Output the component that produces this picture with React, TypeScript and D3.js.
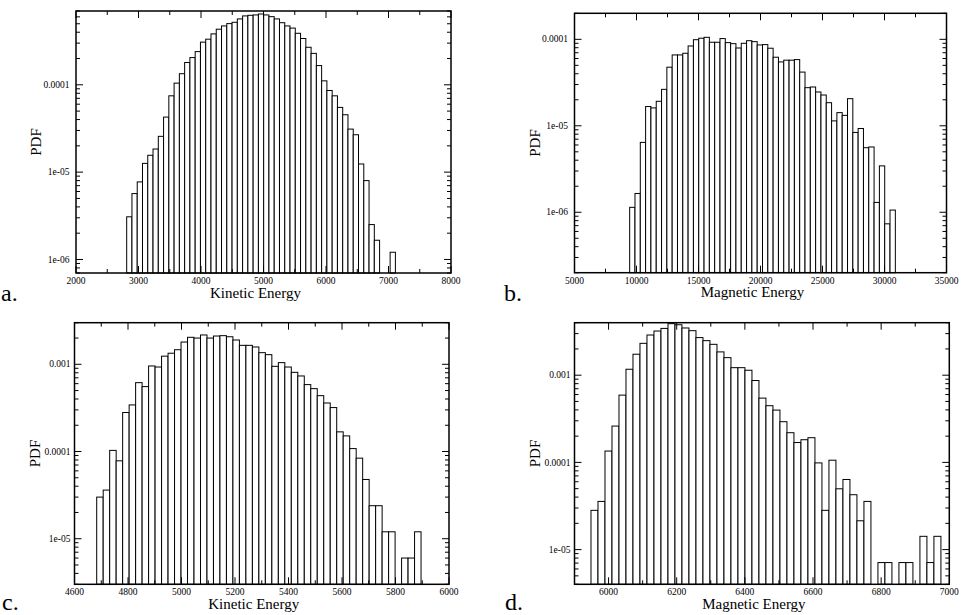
import React from 'react';
import * as d3 from 'd3';

// ---------- DATA ----------
// Panel a: Kinetic Energy PDF
const kineticA_binStart = 2811;
const kineticA_binWidth = 84.3;
const kineticA_pdf = [
  3.08e-6, 5.68e-6, 7.73e-6, 1.26e-5, 1.56e-5, 1.84e-5, 2.57e-5, 4.27e-5, 7.48e-5, 1.045e-4,
  1.34e-4, 1.8e-4, 2.05e-4, 2.4e-4, 3.08e-4, 3.33e-4, 3.83e-4, 4.33e-4, 4.72e-4, 5.02e-4,
  5.2e-4, 5.68e-4, 6.15e-4, 6.25e-4, 6.31e-4, 6.47e-4, 6.31e-4, 6.03e-4, 5.68e-4, 5.14e-4,
  4.72e-4, 4.46e-4, 3.89e-4, 3.39e-4, 2.69e-4, 2.29e-4, 1.66e-4, 1.11e-4, 8.61e-5, 7.48e-5,
  5.51e-5, 4.54e-5, 3.11e-5, 2.68e-5, 1.24e-5, 8.0e-6, 2.51e-6, 1.66e-6, 0, 0, 1.21e-6,
];
const kineticA_xTicks = [2000, 3000, 4000, 5000, 6000, 7000, 8000];
const kineticA_yTicks = [1e-6, 1e-5, 1e-4];
const kineticA_yLabels = ['1e-06', '1e-05', '0.0001'];

// Panel b: Magnetic Energy PDF
const magneticB_binStart = 9449;
const magneticB_binWidth = 428.5;
const magneticB_pdf = [
  1.14e-6, 1.65e-6, 6.43e-6, 1.67e-5, 1.61e-5, 1.92e-5, 2.64e-5, 4.76e-5, 6.6e-5, 6.6e-5,
  6.9e-5, 8.38e-5, 9.9e-5, 1.03e-4, 1.055e-4, 9.25e-5, 9.25e-5, 1.02e-4, 9.16e-5, 8.91e-5,
  7.94e-5, 9.0e-5, 9.64e-5, 9.4e-5, 8.61e-5, 8.69e-5, 7.89e-5, 6.21e-5, 5.48e-5, 5.74e-5,
  5.74e-5, 5.83e-5, 4.18e-5, 2.76e-5, 2.81e-5, 2.46e-5, 2.27e-5, 1.85e-5, 1.14e-5, 1.42e-5,
  1.32e-5, 2.06e-5, 8.38e-6, 9.31e-6, 5.58e-6, 5.69e-6, 1.3e-6, 3.44e-6, 7.35e-7, 1.06e-6,
];
const magneticB_xTicks = [5000, 10000, 15000, 20000, 25000, 30000, 35000];
const magneticB_yTicks = [1e-6, 1e-5, 1e-4];
const magneticB_yLabels = ['1e-06', '1e-05', '0.0001'];

// Panel c: Kinetic Energy PDF
const kineticC_binStart = 4683;
const kineticC_binWidth = 24.25;
const kineticC_pdf = [
  3.0e-5, 3.61e-5, 1.03e-4, 7.82e-5, 2.8e-4, 3.42e-4, 6.16e-4, 5.55e-4, 9.57e-4, 9.31e-4,
  1.24e-3, 1.34e-3, 1.47e-3, 1.8e-3, 2.04e-3, 2.0e-3, 2.17e-3, 2.0e-3, 2.11e-3, 2.13e-3,
  2.07e-3, 1.9e-3, 1.65e-3, 1.65e-3, 1.58e-3, 1.36e-3, 1.29e-3, 9.48e-4, 1.045e-3, 9.31e-4,
  8.09e-4, 7.35e-4, 5.85e-4, 5.26e-4, 4.37e-4, 3.6e-4, 3.19e-4, 1.68e-4, 1.51e-4, 1.08e-4,
  8.39e-5, 4.78e-5, 2.39e-5, 2.39e-5, 1.2e-5, 1.2e-5, 0, 6.0e-6, 6.0e-6, 1.2e-5,
];
const kineticC_xTicks = [4600, 4800, 5000, 5200, 5400, 5600, 5800, 6000];
const kineticC_yTicks = [1e-5, 1e-4, 1e-3];
const kineticC_yLabels = ['1e-05', '0.0001', '0.001'];

// Panel d: Magnetic Energy PDF
const magneticD_binStart = 5948.4;
const magneticD_binWidth = 20.54;
const magneticD_pdf = [
  2.82e-5, 3.57e-5, 1.35e-4, 2.61e-4, 5.91e-4, 1.17e-3, 1.74e-3, 2.32e-3, 2.89e-3, 3.21e-3,
  3.44e-3, 3.9e-3, 3.79e-3, 3.48e-3, 3.24e-3, 2.7e-3, 2.49e-3, 2.26e-3, 1.85e-3, 1.59e-3,
  1.22e-3, 1.22e-3, 1.14e-3, 8.69e-4, 5.46e-4, 4.47e-4, 3.98e-4, 2.93e-4, 2.19e-4, 1.69e-4,
  1.82e-4, 1.92e-4, 9.87e-5, 2.82e-5, 1.06e-4, 4.98e-5, 6.37e-5, 4.26e-5, 2.14e-5, 3.57e-5,
  0, 7.1e-6, 7.1e-6, 0, 7.1e-6, 7.1e-6, 0, 1.42e-5, 7.1e-6, 1.42e-5,
];
const magneticD_xTicks = [6000, 6200, 6400, 6600, 6800, 7000];
const magneticD_yTicks = [1e-5, 1e-4, 1e-3];
const magneticD_yLabels = ['1e-05', '0.0001', '0.001'];

// ---------- LAYOUT ----------
const FONT = '"Liberation Serif", "Times New Roman", Times, serif';

type Spec = {
  letter: string;
  xLabel: string;
  values: number[];
  binStart: number;
  binWidth: number;
  xDomain: [number, number];
  xMinorStep: number;
  xTicks: number[];
  yDomain: [number, number];
  yTicks: number[];
  yLabels: string[];
  left: number;
  right: number;
  top: number;
  bottom: number;
  yLabelGap: number;
  letterX: number;
  letterY: number;
};

const panels: Spec[] = [
  {
    letter: 'a.', xLabel: 'Kinetic Energy', values: kineticA_pdf,
    binStart: kineticA_binStart, binWidth: kineticA_binWidth,
    xDomain: [2000, 8000], xMinorStep: 500, xTicks: kineticA_xTicks,
    yDomain: [7e-7, 7e-4], yTicks: kineticA_yTicks, yLabels: kineticA_yLabels,
    left: 76, right: 451, top: 11, bottom: 273, yLabelGap: 6.5, letterX: 1, letterY: 301,
  },
  {
    letter: 'b.', xLabel: 'Magnetic Energy', values: magneticB_pdf,
    binStart: magneticB_binStart, binWidth: magneticB_binWidth,
    xDomain: [5000, 35000], xMinorStep: 2500, xTicks: magneticB_xTicks,
    yDomain: [2e-7, 2e-4], yTicks: magneticB_yTicks, yLabels: magneticB_yLabels,
    left: 574.5, right: 946.5, top: 13.3, bottom: 272.7, yLabelGap: 6.5, letterX: 504, letterY: 301,
  },
  {
    letter: 'c.', xLabel: 'Kinetic Energy', values: kineticC_pdf,
    binStart: kineticC_binStart, binWidth: kineticC_binWidth,
    xDomain: [4600, 6000], xMinorStep: 100, xTicks: kineticC_xTicks,
    yDomain: [3e-6, 3e-3], yTicks: kineticC_yTicks, yLabels: kineticC_yLabels,
    left: 74.5, right: 449, top: 322.7, bottom: 584.3, yLabelGap: 4, letterX: 2, letterY: 610,
  },
  {
    letter: 'd.', xLabel: 'Magnetic Energy', values: magneticD_pdf,
    binStart: magneticD_binStart, binWidth: magneticD_binWidth,
    xDomain: [5900, 7000], xMinorStep: 100, xTicks: magneticD_xTicks,
    yDomain: [4e-6, 4e-3], yTicks: magneticD_yTicks, yLabels: magneticD_yLabels,
    left: 574.5, right: 949.3, top: 322.7, bottom: 584.3, yLabelGap: 4, letterX: 505, letterY: 610,
  },
];

const MAJOR = 7;
const MINOR = 4;

function Panel({ s }: { s: Spec }) {
  const x = d3.scaleLinear().domain(s.xDomain).range([s.left, s.right]);
  const y = d3.scaleLog().domain(s.yDomain).range([s.bottom, s.top]);

  const xMinor = d3.range(s.xDomain[0], s.xDomain[1] + 1e-9, s.xMinorStep);
  const majorSet = new Set(s.xTicks);
  const yAll = y.ticks().filter((t) => t >= s.yDomain[0] && t <= s.yDomain[1]);
  const isDecade = (t: number) => Math.abs(Math.log10(t) - Math.round(Math.log10(t))) < 1e-6;

  return (
    <g>
      {s.values.map((v, i) => {
        if (v <= 0) return null;
        const x0 = x(s.binStart + i * s.binWidth);
        const x1 = x(s.binStart + (i + 1) * s.binWidth);
        const yt = y(v);
        return (
          <rect key={i} x={x0} y={yt} width={x1 - x0} height={s.bottom - yt}
            fill="white" stroke="black" strokeWidth={1} />
        );
      })}
      {xMinor.map((t, i) => {
        const len = majorSet.has(t) ? MAJOR : MINOR;
        const px = x(t);
        return (
          <g key={'xt' + i}>
            <line x1={px} x2={px} y1={s.bottom} y2={s.bottom - len} stroke="black" strokeWidth={1} />
            <line x1={px} x2={px} y1={s.top} y2={s.top + len} stroke="black" strokeWidth={1} />
          </g>
        );
      })}
      {yAll.map((t, i) => {
        const len = isDecade(t) ? MAJOR : MINOR;
        const py = y(t);
        return (
          <g key={'yt' + i}>
            <line x1={s.left} x2={s.left + len} y1={py} y2={py} stroke="black" strokeWidth={1} />
            <line x1={s.right} x2={s.right - len} y1={py} y2={py} stroke="black" strokeWidth={1} />
          </g>
        );
      })}
      <rect x={s.left} y={s.top} width={s.right - s.left} height={s.bottom - s.top}
        fill="none" stroke="black" strokeWidth={1.5} />
      {s.xTicks.map((t, i) => (
        <text key={'xl' + i} x={x(t)} y={s.bottom + 11} textAnchor="middle"
          fontFamily={FONT} fontSize={9.5} fill="black">{String(t)}</text>
      ))}
      {s.yTicks.map((t, i) => (
        <text key={'yl' + i} x={s.left - s.yLabelGap} y={y(t)} dy="0.33em" textAnchor="end"
          fontFamily={FONT} fontSize={9.5} fill="black">{s.yLabels[i]}</text>
      ))}
      <text x={(s.left + s.right) / 2 - 8} y={s.bottom + 24.5} textAnchor="middle"
        fontFamily={FONT} fontSize={15} fill="black">{s.xLabel}</text>
      <text transform={`translate(${s.left - 35},${(s.top + s.bottom) / 2}) rotate(-90)`}
        textAnchor="middle" fontFamily={FONT} fontSize={15} fill="black">PDF</text>
      <text x={s.letterX} y={s.letterY} fontFamily={FONT} fontSize={24} fill="black">{s.letter}</text>
    </g>
  );
}

export default function App() {
  return (
    <svg width={962} height={615} viewBox="0 0 962 615"
      style={{ position: 'absolute', left: 0, top: 0, background: 'white' }}>
      <rect x={0} y={0} width={962} height={615} fill="white" />
      {panels.map((s, i) => (
        <Panel key={i} s={s} />
      ))}
    </svg>
  );
}
